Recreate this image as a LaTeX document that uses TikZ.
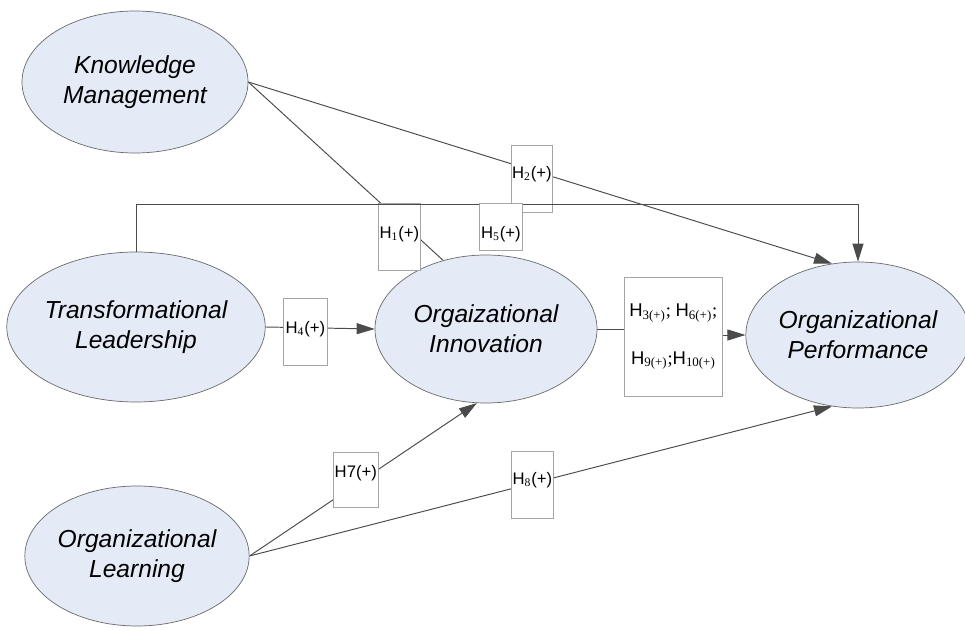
\documentclass[tikz,border=0pt]{standalone}
\usepackage{fontspec}
\setmainfont{Liberation Sans}
\newfontfamily\subserif{Liberation Serif}
\usepackage{tikz}
\usetikzlibrary{arrows.meta, positioning, shapes.geometric, backgrounds}
\definecolor{ellfill}{RGB}{228,235,246}
\definecolor{ellborder}{RGB}{105,105,105}
\definecolor{boxgray}{RGB}{165,165,165}
\definecolor{linkgray}{RGB}{75,75,75}
\newcommand{\hsub}[1]{H\textsubscript{\subserif #1}}

\begin{document}
\begin{tikzpicture}[
    construct/.style={ellipse, draw=ellborder, fill=ellfill, inner sep=0pt, align=center,
        font=\fontsize{14}{17}\selectfont\itshape},
    hyp/.style={draw=boxgray, fill=white, inner sep=0pt, anchor=north west,
        font=\fontsize{9.5}{11}\selectfont},
    link/.style={draw=linkgray, line width=0.55pt},
    arr/.style={link, -{Triangle[length=0.36cm, width=0.22cm]}}]
    \useasboundingbox (0,0) rectangle (19.3,-12.62);
    % constructs
    \node[construct, minimum width=4.52cm, minimum height=2.84cm] (km) at (2.70,-1.64) {Knowledge\\Management};
    \node[construct, minimum width=4.96cm, minimum height=3.00cm] (tl) at (2.72,-6.54) {Transformational\\Leadership};
    \node[construct, minimum width=4.44cm, minimum height=2.96cm] (oi) at (9.72,-6.58) {Orgaizational\\Innovation};
    \node[construct, minimum width=4.24cm, minimum height=2.92cm] (op) at (17.16,-6.70) {Organizational\\Performance};
    \node[construct, minimum width=4.48cm, minimum height=2.80cm] (ol) at (2.74,-11.12) {Organizational\\Learning};
    % hypothesis boxes
    \node[hyp, minimum width=0.84cm, text height=0.70cm, text depth=0.64cm] (h1) at (7.56,-4.06) {\hsub{1}(+)};
    \node[hyp, minimum width=0.82cm, text height=0.66cm, text depth=0.68cm] (h2) at (10.22,-2.90) {\hsub{2}(+)};
    \node[hyp, minimum width=0.88cm, text height=0.70cm, text depth=0.64cm] (h4) at (5.66,-5.96) {\hsub{4}(+)};
    \node[hyp, minimum width=0.90cm, text height=0.50cm, text depth=0.60cm] (h7) at (6.66,-9.04) {H7(+)};
    \node[hyp, minimum width=0.84cm, text height=0.66cm, text depth=0.68cm] (h8) at (10.22,-9.02) {\hsub{8}(+)};
    \node[hyp, minimum width=1.96cm, minimum height=2.38cm, align=center, font=\fontsize{10.5}{12}\selectfont] (h3) at (12.48,-5.54)
        {\hsub{3(+)}{\subserif; }\hsub{6(+)}{\subserif;}\\[15pt]\hsub{9(+)}{\subserif;}\hsub{10(+)}};
    % paths
    \begin{scope}[on background layer]
        \draw[arr] (km.east) -- (op.110);
        \draw[link] (km.east) -- (oi.122);
        \draw[arr] (tl.east) -- (oi.west);
        \draw[link] (oi.east) -- (h3.west |- oi.east);
        \draw[arr] (h3.east |- op.west) -- (op.west);
        \draw[arr] (ol.east) -- (oi.263);
        \draw[arr] (ol.east) -- (op.250);
    \end{scope}
    \coordinate (bend) at (0,-4.08);
    \draw[arr] (tl.north) -- (tl.north |- bend) -| (op.north);
    \node[hyp, minimum width=0.86cm, text height=0.70cm, text depth=0.24cm] (h5) at (9.58,-4.06) {\hsub{5}(+)};
\end{tikzpicture}
\end{document}
